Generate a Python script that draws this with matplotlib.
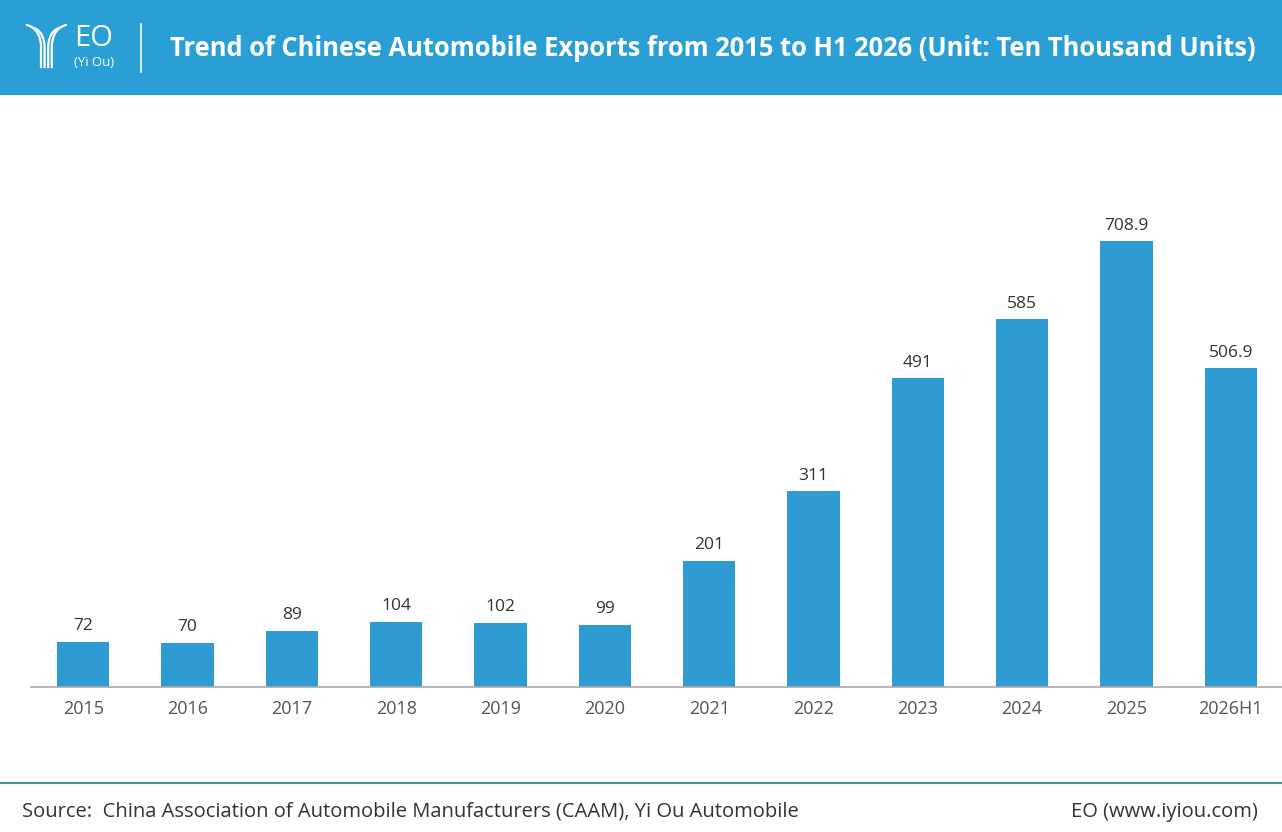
import numpy as np
import matplotlib.pyplot as plt
from matplotlib.patches import Rectangle
from matplotlib.lines import Line2D

plt.rcParams['font.family'] = ['Open Sans', 'DejaVu Sans']

years = ["2015", "2016", "2017", "2018", "2019", "2020", "2021", "2022", "2023", "2024", "2025", "2026H1"]
exports = [72, 70, 89, 104, 102, 99, 201, 311, 491, 585, 708.9, 506.9]
value_labels = ["72", "70", "89", "104", "102", "99", "201", "311", "491", "585", "708.9", "506.9"]

title = "Trend of Chinese Automobile Exports from 2015 to H1 2026 (Unit: Ten Thousand Units)"
source = "Source:  China Association of Automobile Manufacturers (CAAM), Yi Ou Automobile"
site = "EO (www.iyiou.com)"

blue = "#2e9bd2"
W, H = 1282, 832


def px(xp, yp):
    # pixel coords (from top-left) -> figure fraction
    return np.asarray(xp) / W, 1 - np.asarray(yp) / H


fig = plt.figure(figsize=(12.82, 8.32), dpi=100)
fig.patch.set_facecolor("white")

# header band
fig.patches.append(Rectangle((0, 1 - 95/H), 1, 95/H, transform=fig.transFigure,
                             facecolor="#2a9fd6", edgecolor="none", zorder=0))

# logo: four stems splitting into a Y
t = np.linspace(0, 1, 30)
for i in range(4):
    sx = 41 + i * 3.6
    side = -1 if i < 2 else 1
    spread = (2 - i) if i < 2 else (i - 1)
    tipx = sx + side * (7 + spread * 3.5)
    tipy = 25 + (2 - spread) * 3
    cx = sx + side * 1
    cy = tipy + 4
    bx = (1 - t) ** 2 * sx + 2 * (1 - t) * t * cx + t ** 2 * tipx
    by = (1 - t) ** 2 * 46 + 2 * (1 - t) * t * cy + t ** 2 * tipy
    xs = np.concatenate([[sx], bx])
    ys = np.concatenate([[67], by])
    fx, fy = px(xs, ys)
    fig.lines.append(Line2D(fx, fy, transform=fig.transFigure, color="white", lw=1.6))

fig.text(94/W, 1 - 38/H, "EO", color="white", fontsize=21, ha="center", va="center")
fig.text(94/W, 1 - 62/H, "(Yi Ou)", color="white", fontsize=9.5, ha="center", va="center")
fig.lines.append(Line2D([141/W, 141/W], [1 - 24/H, 1 - 72/H], transform=fig.transFigure,
                        color="white", lw=1.2))
fig.text(170/W, 1 - 48/H, title, color="white", fontsize=18.4, fontweight="bold",
         ha="left", va="center")

ax = fig.add_axes([31/W, (H - 687)/H, 1252/W, 503/H])
x = range(len(years))
ax.bar(x, exports, width=0.5, color=blue)
for i, v in enumerate(exports):
    ax.text(i, v + 12, value_labels[i], ha="center", va="bottom", fontsize=12.5, color="#333333")
ax.set_xlim(-0.5, len(years) - 0.5)
ax.set_ylim(0, 800)
ax.set_xticks(list(x))
ax.set_xticklabels(years, fontsize=13, color="#555555")
ax.tick_params(axis="x", length=0, pad=9)
ax.set_yticks([])
for s in ("left", "right", "top"):
    ax.spines[s].set_visible(False)
ax.spines["bottom"].set_color("#aaaaaa")
ax.spines["bottom"].set_linewidth(1.2)

# footer
fig.lines.append(Line2D([0, 1], [1 - 783/H, 1 - 783/H], transform=fig.transFigure,
                        color="#4d8c99", lw=1.5))
fig.text(22/W, 1 - 812/H, source, fontsize=14.5, color="#333333", ha="left", va="center")
fig.text(1258/W, 1 - 812/H, site, fontsize=14.5, color="#333333", ha="right", va="center")

fig.savefig("out.png", dpi=100)
